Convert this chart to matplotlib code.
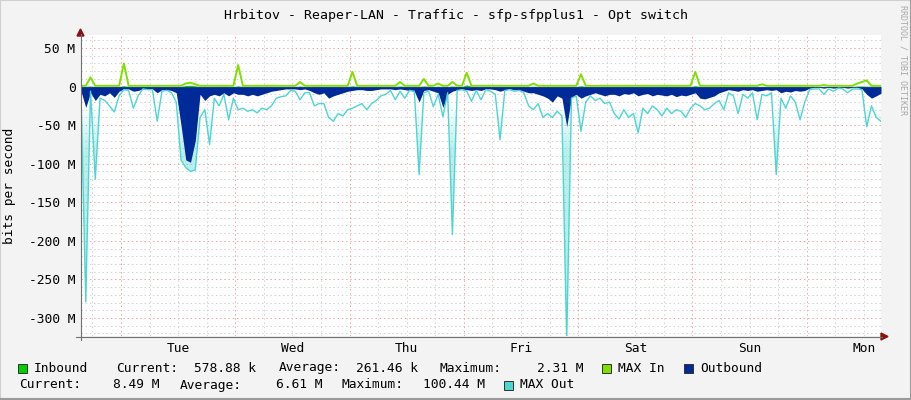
import numpy as np
import matplotlib.pyplot as plt
from matplotlib.lines import Line2D
from matplotlib.patches import Rectangle, Polygon

W, H = 911, 400

title = "Hrbitov - Reaper-LAN - Traffic - sfp-sfpplus1 - Opt switch"
days = ['Tue', 'Wed', 'Thu', 'Fri', 'Sat', 'Sun', 'Mon']
first_midnight = 8.4          # hours from the left edge to Tue 00:00
hours = np.arange(169)        # one sample per hour, one week

# values in M bits/s (outbound is drawn negative)
inbound = [0.3, 0.4, 0.8, 0.3, 0.3, 0.2, 0.2, 0.3, 0.3, 1.2, 0.3, 0.2,
           0.2, 0.2, 0.3, 0.2, 0.2, 0.2, 0.3, 0.2, 0.3, 0.4, 1.5, 1.8,
           1.0, 0.3, 0.2, 0.2, 0.2, 0.3, 0.2, 0.2, 0.3, 1.0, 0.3, 0.2,
           0.2, 0.2, 0.2, 0.2, 0.2, 0.2, 0.2, 0.2, 0.3, 0.3, 0.8, 0.2,
           0.2, 0.2, 0.2, 0.2, 0.3, 0.2, 0.2, 0.2, 0.3, 1.1, 0.3, 0.2,
           0.2, 0.2, 0.2, 0.2, 0.2, 0.2, 0.3, 0.9, 0.3, 0.2, 0.2, 0.3,
           1.0, 0.3, 0.2, 0.6, 0.2, 0.2, 0.8, 0.3, 0.2, 2.31, 0.3, 0.2,
           0.2, 0.2, 0.2, 0.2, 0.2, 0.2, 0.2, 0.2, 0.2, 0.2, 0.2, 0.6,
           0.2, 0.2, 0.2, 0.2, 0.2, 0.2, 0.2, 0.2, 0.2, 1.2, 0.2, 0.2,
           0.2, 0.2, 0.2, 0.2, 0.2, 0.2, 0.2, 0.2, 0.2, 0.2, 0.2, 0.2,
           0.2, 0.2, 0.2, 0.2, 0.2, 0.2, 0.2, 0.2, 0.2, 1.3, 0.2, 0.2,
           0.2, 0.2, 0.2, 0.2, 0.2, 0.2, 0.2, 0.2, 0.2, 0.2, 0.2, 0.4,
           0.2, 0.2, 0.2, 0.2, 0.2, 0.2, 0.2, 0.2, 0.2, 0.2, 0.2, 0.2,
           0.3, 0.2, 0.2, 0.2, 0.2, 0.2, 0.2, 0.7, 0.9, 0.6, 0.5, 0.6,
           0.58]

max_in = [1, 1, 12, 1, 1, 1, 1, 1, 1, 30, 1, 1,
          1, 1, 1, 1, 1, 1, 1, 1, 1, 1, 4, 5,
          3, 1, 1, 1, 1, 1, 1, 1, 1, 28, 1, 1,
          1, 1, 1, 1, 1, 1, 1, 1, 1, 1, 6, 1,
          1, 1, 1, 1, 1, 1, 1, 1, 1, 19, 1, 1,
          1, 1, 1, 1, 1, 1, 1, 6, 1, 1, 1, 1,
          10, 1, 1, 4, 1, 1, 6, 1, 1, 18, 1, 1,
          1, 1, 1, 1, 1, 1, 1, 1, 1, 1, 1, 4,
          1, 1, 1, 1, 1, 1, 1, 1, 1, 16, 1, 1,
          1, 1, 1, 1, 1, 1, 1, 1, 1, 1, 1, 1,
          1, 1, 1, 1, 1, 1, 1, 1, 1, 19, 1, 1,
          1, 1, 1, 1, 1, 1, 1, 1, 1, 1, 1, 3,
          1, 1, 1, 1, 1, 1, 1, 1, 1, 1, 1, 1,
          2, 1, 1, 1, 1, 1, 1, 4, 6, 8, 1, 1,
          1]

outbound = [-6, -27, -8, -18, -10, -12, -8, -14, -6, -3, -3, -6,
            -5, -3, -3, -3, -8, -4, -4, -5, -8, -50, -95, -98,
            -70, -10, -18, -12, -10, -12, -8, -12, -8, -10, -10, -12,
            -10, -12, -10, -8, -6, -5, -4, -3, -3, -3, -4, -3,
            -5, -8, -10, -8, -15, -12, -10, -8, -6, -5, -4, -4,
            -5, -5, -4, -3, -3, -3, -4, -3, -4, -5, -6, -20,
            -5, -4, -6, -8, -27, -10, -6, -4, -3, -4, -5, -4,
            -5, -3, -3, -4, -6, -4, -3, -4, -4, -6, -8, -8,
            -10, -12, -15, -20, -12, -15, -52, -14, -10, -15, -12, -10,
            -8, -10, -12, -10, -10, -12, -9, -10, -8, -12, -10, -9,
            -12, -10, -11, -12, -10, -13, -11, -12, -10, -8, -15, -16,
            -14, -12, -8, -6, -4, -5, -6, -4, -5, -4, -6, -5,
            -4, -5, -4, -8, -6, -7, -5, -6, -5, -2, -1, -1,
            -2, -1, -2, -1, -1, -2, -1, -1, -3, -10, -15, -12,
            -8.49]

max_out = [-10, -279, -6, -120, -15, -18, -25, -33, -12, -4, -5, -28,
           -12, -3, -4, -4, -45, -6, -5, -8, -20, -95, -105, -110,
           -108, -40, -30, -75, -15, -25, -10, -43, -15, -30, -28, -32,
           -30, -34, -28, -30, -25, -15, -13, -12, -5, -6, -17, -8,
           -8, -25, -22, -22, -40, -45, -35, -38, -30, -28, -25, -22,
           -30, -22, -18, -12, -10, -5, -17, -6, -15, -5, -6, -114,
           -8, -6, -26, -10, -39, -8, -192, -5, -4, -6, -19, -5,
           -17, -4, -6, -10, -69, -5, -4, -6, -5, -8, -25, -30,
           -22, -40, -35, -40, -32, -38, -330, -15, -12, -58, -20, -12,
           -18, -15, -22, -20, -35, -42, -30, -40, -35, -60, -28, -35,
           -25, -30, -38, -28, -35, -30, -32, -40, -28, -22, -25, -30,
           -28, -22, -18, -30, -8, -12, -35, -10, -15, -8, -43, -10,
           -12, -8, -114, -15, -28, -12, -20, -43, -20, -4, -3, -3,
           -10, -3, -6, -2, -3, -8, -3, -3, -4, -52, -25, -40,
           -45]

ytick_vals = [50, 0, -50, -100, -150, -200, -250, -300]

legend_row1 = [('box', '#00CF00', 18), ('Inbound', 34), ('Current:', 116), ('578.88 k', 194),
               ('Average:', 279), ('261.46 k', 356), ('Maximum:', 440), ('2.31 M', 537),
               ('box', '#7FE000', 602), ('MAX In', 618), ('box', '#002A97', 684), ('Outbound', 700)]
legend_row2 = [('Current:', 19), ('8.49 M', 113), ('Average:', 180), ('6.61 M', 276),
               ('Maximum:', 342), ('100.44 M', 423), ('box', '#4ED5D2', 504), ('MAX Out', 520)]

plt.rcParams['font.family'] = ['DejaVu Sans Mono']
FS = 9.3
CYAN = '#4ED5D2'
YMIN, YMAX = -323.3, 66.9

fig = plt.figure(figsize=(W / 100, H / 100), dpi=100, facecolor='#F3F3F3')


def fx(x):
    return x / W


def fy(y):
    return 1 - y / H


ax = fig.add_axes([fx(81), fy(336), 800 / W, 301 / H])
ax.set_facecolor('white')
for s in ax.spines.values():
    s.set_visible(False)

# grid
dots = (0, (1.4, 2.8))
for v in range(-320, 70, 10):
    major = v % 50 == 0
    ax.axhline(v, color='#F2A0A0' if major else '#D2D2D2', lw=0.72, ls=dots, zorder=0)
t = first_midnight - 6
while t < 168:
    major = abs((t - first_midnight) % 24) < 1e-6
    ax.axvline(t, color='#F2A0A0' if major else '#D2D2D2', lw=0.72, ls=dots, zorder=0)
    t += 6

# data
ax.fill_between(hours, inbound, 0, color='#00CF00', lw=0, zorder=2)
ax.plot(hours, max_in, color='#7FE000', lw=1.4, zorder=3)

# pale shading inside MAX Out, only where it is far below zero
shape = ax.fill_between(hours, max_out, 0, facecolor='none', lw=0, zorder=3.4)
depth = np.linspace(0, -YMIN, 300)[:, None]
grad = np.zeros((300, 1, 4))
grad[..., :3] = [0.31, 0.84, 0.82]
grad[..., 3] = np.clip((depth - 25) / 60, 0, 1) * 0.4
img = ax.imshow(grad, extent=[0, 168, YMIN, 0], origin='upper', aspect='auto',
                interpolation='bilinear', zorder=3.5)
img.set_clip_path(shape.get_paths()[0], ax.transData)

ax.fill_between(hours, outbound, 0, color='#002A97', lw=0, zorder=4)
ax.plot(hours, max_out, color=CYAN, lw=1.0, zorder=5)
ax.set_xlim(0, 168)
ax.set_ylim(YMIN, YMAX)

ax.set_yticks(ytick_vals)
ax.set_yticklabels(['0' if v == 0 else '%d M' % v for v in ytick_vals], fontsize=FS)
ax.set_xticks([first_midnight + 12 + 24 * i for i in range(len(days))])
ax.set_xticklabels(days, fontsize=FS)
ax.tick_params(length=0, pad=4)

# axes lines and arrows
fig.add_artist(Line2D([fx(80.5), fx(80.5)], [fy(340), fy(34)], color='#707070', lw=0.8))
fig.add_artist(Line2D([fx(76), fx(882)], [fy(336.5), fy(336.5)], color='#707070', lw=0.8))
fig.add_artist(Polygon([(fx(77), fy(36)), (fx(84), fy(36)), (fx(80.5), fy(29))],
                       closed=True, color='#8B1010'))
fig.add_artist(Polygon([(fx(881), fy(333)), (fx(881), fy(340)), (fx(888), fy(336.5))],
                       closed=True, color='#8B1010'))

# frame
fig.add_artist(Line2D([0, 0, 1], [0, 1, 1], color='#D0D0D0', lw=1.5))
fig.add_artist(Line2D([0, 1, 1], [0.002, 0.002, 1], color='#9A9A9A', lw=1.5))

fig.text(0.5, fy(15), title, ha='center', va='center', fontsize=FS + 0.2)
fig.text(fx(10), fy(186), 'bits per second', rotation=90, ha='center', va='center', fontsize=FS)
fig.text(fx(903), fy(60), 'RRDTOOL / TOBI OETIKER', rotation=270, ha='center', va='center',
         fontsize=6, color='#A8A8A8')

for row, ypos in ((legend_row1, 368), (legend_row2, 385)):
    for item in row:
        if item[0] == 'box':
            fig.add_artist(Rectangle((fx(item[2]), fy(ypos + 4.5)), 9 / W, 9 / H,
                                     facecolor=item[1], edgecolor='#303030', lw=0.7))
        else:
            fig.text(fx(item[1]), fy(ypos), item[0], ha='left', va='center', fontsize=FS)

fig.savefig('out.png', dpi=100, facecolor=fig.get_facecolor())
